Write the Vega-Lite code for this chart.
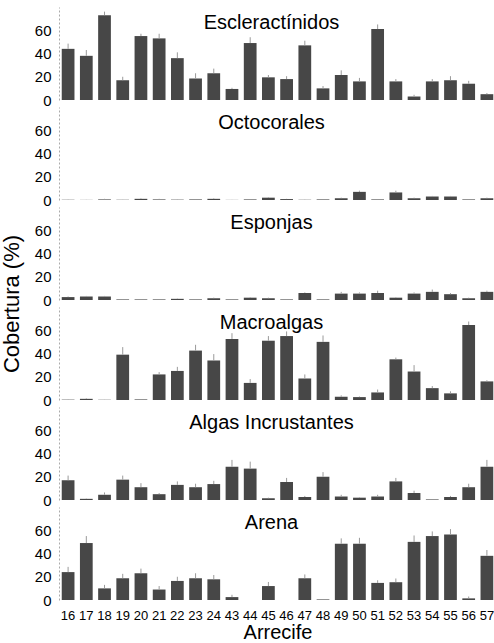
{
  "$schema": "https://vega.github.io/schema/vega-lite/v6.json",
  "padding": {"left": 0, "right": 0, "top": 7, "bottom": 0},
  "background": "white",
  "config": {
    "view": {"stroke": null},
    "font": "Liberation Sans",
    "axis": {"labelOverlap": false}
  },
  "datasets": {
    "cob": [
      {"arrecife": "16", "grupo": "Escleractínidos", "cobertura": 44, "sup": 48.5},
      {"arrecife": "17", "grupo": "Escleractínidos", "cobertura": 38, "sup": 43},
      {"arrecife": "18", "grupo": "Escleractínidos", "cobertura": 73, "sup": 76},
      {"arrecife": "19", "grupo": "Escleractínidos", "cobertura": 17, "sup": 20},
      {"arrecife": "20", "grupo": "Escleractínidos", "cobertura": 55, "sup": 57},
      {"arrecife": "21", "grupo": "Escleractínidos", "cobertura": 53, "sup": 57},
      {"arrecife": "22", "grupo": "Escleractínidos", "cobertura": 36, "sup": 41},
      {"arrecife": "23", "grupo": "Escleractínidos", "cobertura": 18.5, "sup": 23},
      {"arrecife": "24", "grupo": "Escleractínidos", "cobertura": 23, "sup": 27},
      {"arrecife": "43", "grupo": "Escleractínidos", "cobertura": 9.5, "sup": 10.5},
      {"arrecife": "44", "grupo": "Escleractínidos", "cobertura": 49, "sup": 54},
      {"arrecife": "45", "grupo": "Escleractínidos", "cobertura": 19.5, "sup": 21.5},
      {"arrecife": "46", "grupo": "Escleractínidos", "cobertura": 18, "sup": 20.5},
      {"arrecife": "47", "grupo": "Escleractínidos", "cobertura": 47, "sup": 51},
      {"arrecife": "48", "grupo": "Escleractínidos", "cobertura": 10, "sup": 12},
      {"arrecife": "49", "grupo": "Escleractínidos", "cobertura": 21.5, "sup": 25.5},
      {"arrecife": "50", "grupo": "Escleractínidos", "cobertura": 16, "sup": 19},
      {"arrecife": "51", "grupo": "Escleractínidos", "cobertura": 61, "sup": 65},
      {"arrecife": "52", "grupo": "Escleractínidos", "cobertura": 16, "sup": 18},
      {"arrecife": "53", "grupo": "Escleractínidos", "cobertura": 3, "sup": 4.5},
      {"arrecife": "54", "grupo": "Escleractínidos", "cobertura": 16, "sup": 18},
      {"arrecife": "55", "grupo": "Escleractínidos", "cobertura": 17, "sup": 20.5},
      {"arrecife": "56", "grupo": "Escleractínidos", "cobertura": 14, "sup": 16.5},
      {"arrecife": "57", "grupo": "Escleractínidos", "cobertura": 5, "sup": 6},

      {"arrecife": "16", "grupo": "Octocorales", "cobertura": 0.2, "sup": 0.4},
      {"arrecife": "17", "grupo": "Octocorales", "cobertura": 0.1, "sup": 0.2},
      {"arrecife": "18", "grupo": "Octocorales", "cobertura": 0.5, "sup": 1},
      {"arrecife": "19", "grupo": "Octocorales", "cobertura": 0.2, "sup": 0.3},
      {"arrecife": "20", "grupo": "Octocorales", "cobertura": 1, "sup": 1.5},
      {"arrecife": "21", "grupo": "Octocorales", "cobertura": 0.5, "sup": 1},
      {"arrecife": "22", "grupo": "Octocorales", "cobertura": 0.3, "sup": 0.5},
      {"arrecife": "23", "grupo": "Octocorales", "cobertura": 0.5, "sup": 0.8},
      {"arrecife": "24", "grupo": "Octocorales", "cobertura": 1, "sup": 1.5},
      {"arrecife": "43", "grupo": "Octocorales", "cobertura": 0.1, "sup": 0.2},
      {"arrecife": "44", "grupo": "Octocorales", "cobertura": 0.5, "sup": 0.8},
      {"arrecife": "45", "grupo": "Octocorales", "cobertura": 2, "sup": 2.5},
      {"arrecife": "46", "grupo": "Octocorales", "cobertura": 0.8, "sup": 1},
      {"arrecife": "47", "grupo": "Octocorales", "cobertura": 0.2, "sup": 0.4},
      {"arrecife": "48", "grupo": "Octocorales", "cobertura": 0.5, "sup": 0.8},
      {"arrecife": "49", "grupo": "Octocorales", "cobertura": 1.5, "sup": 2},
      {"arrecife": "50", "grupo": "Octocorales", "cobertura": 7, "sup": 8},
      {"arrecife": "51", "grupo": "Octocorales", "cobertura": 0.5, "sup": 0.8},
      {"arrecife": "52", "grupo": "Octocorales", "cobertura": 6.5, "sup": 8},
      {"arrecife": "53", "grupo": "Octocorales", "cobertura": 1.5, "sup": 2},
      {"arrecife": "54", "grupo": "Octocorales", "cobertura": 3, "sup": 3.5},
      {"arrecife": "55", "grupo": "Octocorales", "cobertura": 3, "sup": 3.5},
      {"arrecife": "56", "grupo": "Octocorales", "cobertura": 0.5, "sup": 0.7},
      {"arrecife": "57", "grupo": "Octocorales", "cobertura": 1.5, "sup": 2},

      {"arrecife": "16", "grupo": "Esponjas", "cobertura": 2.5, "sup": 3},
      {"arrecife": "17", "grupo": "Esponjas", "cobertura": 3, "sup": 3.5},
      {"arrecife": "18", "grupo": "Esponjas", "cobertura": 3, "sup": 3.5},
      {"arrecife": "19", "grupo": "Esponjas", "cobertura": 0.5, "sup": 0.7},
      {"arrecife": "20", "grupo": "Esponjas", "cobertura": 0.5, "sup": 0.8},
      {"arrecife": "21", "grupo": "Esponjas", "cobertura": 0.5, "sup": 0.7},
      {"arrecife": "22", "grupo": "Esponjas", "cobertura": 1, "sup": 1.3},
      {"arrecife": "23", "grupo": "Esponjas", "cobertura": 0.5, "sup": 0.7},
      {"arrecife": "24", "grupo": "Esponjas", "cobertura": 1.5, "sup": 2},
      {"arrecife": "43", "grupo": "Esponjas", "cobertura": 0.5, "sup": 0.7},
      {"arrecife": "44", "grupo": "Esponjas", "cobertura": 2, "sup": 2.5},
      {"arrecife": "45", "grupo": "Esponjas", "cobertura": 1.5, "sup": 2},
      {"arrecife": "46", "grupo": "Esponjas", "cobertura": 0.5, "sup": 0.7},
      {"arrecife": "47", "grupo": "Esponjas", "cobertura": 6, "sup": 6.5},
      {"arrecife": "48", "grupo": "Esponjas", "cobertura": 0.5, "sup": 0.7},
      {"arrecife": "49", "grupo": "Esponjas", "cobertura": 5.5, "sup": 7},
      {"arrecife": "50", "grupo": "Esponjas", "cobertura": 5.5, "sup": 6.5},
      {"arrecife": "51", "grupo": "Esponjas", "cobertura": 6, "sup": 8},
      {"arrecife": "52", "grupo": "Esponjas", "cobertura": 2, "sup": 2.5},
      {"arrecife": "53", "grupo": "Esponjas", "cobertura": 5.5, "sup": 6.5},
      {"arrecife": "54", "grupo": "Esponjas", "cobertura": 7, "sup": 9},
      {"arrecife": "55", "grupo": "Esponjas", "cobertura": 5, "sup": 6},
      {"arrecife": "56", "grupo": "Esponjas", "cobertura": 1.5, "sup": 2},
      {"arrecife": "57", "grupo": "Esponjas", "cobertura": 7, "sup": 8},

      {"arrecife": "16", "grupo": "Macroalgas", "cobertura": 0.3, "sup": 0.5},
      {"arrecife": "17", "grupo": "Macroalgas", "cobertura": 1, "sup": 1.5},
      {"arrecife": "18", "grupo": "Macroalgas", "cobertura": 0.2, "sup": 0.3},
      {"arrecife": "19", "grupo": "Macroalgas", "cobertura": 39, "sup": 45.5},
      {"arrecife": "20", "grupo": "Macroalgas", "cobertura": 0.5, "sup": 0.8},
      {"arrecife": "21", "grupo": "Macroalgas", "cobertura": 22, "sup": 24},
      {"arrecife": "22", "grupo": "Macroalgas", "cobertura": 25, "sup": 28.5},
      {"arrecife": "23", "grupo": "Macroalgas", "cobertura": 42.5, "sup": 47.5},
      {"arrecife": "24", "grupo": "Macroalgas", "cobertura": 34, "sup": 39.5},
      {"arrecife": "43", "grupo": "Macroalgas", "cobertura": 52.5, "sup": 57.5},
      {"arrecife": "44", "grupo": "Macroalgas", "cobertura": 14.7, "sup": 18},
      {"arrecife": "45", "grupo": "Macroalgas", "cobertura": 51, "sup": 55},
      {"arrecife": "46", "grupo": "Macroalgas", "cobertura": 55, "sup": 59},
      {"arrecife": "47", "grupo": "Macroalgas", "cobertura": 18.5, "sup": 22},
      {"arrecife": "48", "grupo": "Macroalgas", "cobertura": 50, "sup": 55.5},
      {"arrecife": "49", "grupo": "Macroalgas", "cobertura": 2.8, "sup": 4},
      {"arrecife": "50", "grupo": "Macroalgas", "cobertura": 2.5, "sup": 3},
      {"arrecife": "51", "grupo": "Macroalgas", "cobertura": 6.5, "sup": 9},
      {"arrecife": "52", "grupo": "Macroalgas", "cobertura": 35, "sup": 36.5},
      {"arrecife": "53", "grupo": "Macroalgas", "cobertura": 24.5, "sup": 30},
      {"arrecife": "54", "grupo": "Macroalgas", "cobertura": 10.2, "sup": 12},
      {"arrecife": "55", "grupo": "Macroalgas", "cobertura": 5.7, "sup": 7.5},
      {"arrecife": "56", "grupo": "Macroalgas", "cobertura": 64.5, "sup": 67.5},
      {"arrecife": "57", "grupo": "Macroalgas", "cobertura": 16, "sup": 17},

      {"arrecife": "16", "grupo": "Algas Incrustantes", "cobertura": 17, "sup": 21},
      {"arrecife": "17", "grupo": "Algas Incrustantes", "cobertura": 1, "sup": 1.3},
      {"arrecife": "18", "grupo": "Algas Incrustantes", "cobertura": 4.5, "sup": 6.5},
      {"arrecife": "19", "grupo": "Algas Incrustantes", "cobertura": 17.5, "sup": 21},
      {"arrecife": "20", "grupo": "Algas Incrustantes", "cobertura": 11, "sup": 14.5},
      {"arrecife": "21", "grupo": "Algas Incrustantes", "cobertura": 5, "sup": 6},
      {"arrecife": "22", "grupo": "Algas Incrustantes", "cobertura": 13, "sup": 16},
      {"arrecife": "23", "grupo": "Algas Incrustantes", "cobertura": 11, "sup": 14},
      {"arrecife": "24", "grupo": "Algas Incrustantes", "cobertura": 13.7, "sup": 16.5},
      {"arrecife": "43", "grupo": "Algas Incrustantes", "cobertura": 28.6, "sup": 34.5},
      {"arrecife": "44", "grupo": "Algas Incrustantes", "cobertura": 27, "sup": 33},
      {"arrecife": "45", "grupo": "Algas Incrustantes", "cobertura": 1.5, "sup": 2},
      {"arrecife": "46", "grupo": "Algas Incrustantes", "cobertura": 15.5, "sup": 19},
      {"arrecife": "47", "grupo": "Algas Incrustantes", "cobertura": 2.6, "sup": 3.5},
      {"arrecife": "48", "grupo": "Algas Incrustantes", "cobertura": 20, "sup": 24},
      {"arrecife": "49", "grupo": "Algas Incrustantes", "cobertura": 3, "sup": 4.5},
      {"arrecife": "50", "grupo": "Algas Incrustantes", "cobertura": 2, "sup": 2.5},
      {"arrecife": "51", "grupo": "Algas Incrustantes", "cobertura": 3, "sup": 4.5},
      {"arrecife": "52", "grupo": "Algas Incrustantes", "cobertura": 16, "sup": 19},
      {"arrecife": "53", "grupo": "Algas Incrustantes", "cobertura": 6, "sup": 8},
      {"arrecife": "54", "grupo": "Algas Incrustantes", "cobertura": 0.5, "sup": 0.7},
      {"arrecife": "55", "grupo": "Algas Incrustantes", "cobertura": 2.6, "sup": 3.5},
      {"arrecife": "56", "grupo": "Algas Incrustantes", "cobertura": 11, "sup": 14},
      {"arrecife": "57", "grupo": "Algas Incrustantes", "cobertura": 28.6, "sup": 34.5},

      {"arrecife": "16", "grupo": "Arena", "cobertura": 24, "sup": 28.5},
      {"arrecife": "17", "grupo": "Arena", "cobertura": 49, "sup": 55},
      {"arrecife": "18", "grupo": "Arena", "cobertura": 10, "sup": 13},
      {"arrecife": "19", "grupo": "Arena", "cobertura": 18.7, "sup": 22.5},
      {"arrecife": "20", "grupo": "Arena", "cobertura": 23, "sup": 27},
      {"arrecife": "21", "grupo": "Arena", "cobertura": 9, "sup": 12},
      {"arrecife": "22", "grupo": "Arena", "cobertura": 16.4, "sup": 20},
      {"arrecife": "23", "grupo": "Arena", "cobertura": 18.7, "sup": 23},
      {"arrecife": "24", "grupo": "Arena", "cobertura": 17.8, "sup": 21.5},
      {"arrecife": "43", "grupo": "Arena", "cobertura": 2.5, "sup": 4.5},
      {"arrecife": "44", "grupo": "Arena", "cobertura": 0, "sup": 0},
      {"arrecife": "45", "grupo": "Arena", "cobertura": 12, "sup": 15.5},
      {"arrecife": "46", "grupo": "Arena", "cobertura": 0, "sup": 0},
      {"arrecife": "47", "grupo": "Arena", "cobertura": 18.7, "sup": 22},
      {"arrecife": "48", "grupo": "Arena", "cobertura": 0.5, "sup": 0.6},
      {"arrecife": "49", "grupo": "Arena", "cobertura": 48.4, "sup": 53},
      {"arrecife": "50", "grupo": "Arena", "cobertura": 48.4, "sup": 53.5},
      {"arrecife": "51", "grupo": "Arena", "cobertura": 14.7, "sup": 17},
      {"arrecife": "52", "grupo": "Arena", "cobertura": 15.3, "sup": 18.5},
      {"arrecife": "53", "grupo": "Arena", "cobertura": 50, "sup": 55.5},
      {"arrecife": "54", "grupo": "Arena", "cobertura": 55, "sup": 59},
      {"arrecife": "55", "grupo": "Arena", "cobertura": 56.4, "sup": 61},
      {"arrecife": "56", "grupo": "Arena", "cobertura": 1.4, "sup": 3},
      {"arrecife": "57", "grupo": "Arena", "cobertura": 38, "sup": 43}
    ]
  },
  "data": {"name": "cob"},
  "facet": {
    "row": {
      "field": "grupo",
      "type": "nominal",
      "sort": ["Escleractínidos", "Octocorales", "Esponjas", "Macroalgas", "Algas Incrustantes", "Arena"],
      "header": {
        "title": "Cobertura (%)",
        "titleFont": "Liberation Sans",
        "titleFontSize": 22,
        "titleFontWeight": "normal",
        "titleColor": "black",
        "titleOrient": "left",
        "titlePadding": 0,
        "labels": false
      }
    }
  },
  "spacing": 6,
  "spec": {
    "width": 437,
    "height": 93,
    "layer": [
      {
        "mark": {"type": "bar", "color": "#474747"},
        "encoding": {
          "x": {
            "field": "arrecife",
            "type": "ordinal",
            "scale": {"paddingInner": 0.3, "paddingOuter": 0.15},
            "axis": {
              "title": "Arrecife",
              "titleFont": "Liberation Sans",
              "titleFontSize": 20,
              "titleFontWeight": "normal",
              "titleColor": "black",
              "titlePadding": 0,
              "labelFont": "Liberation Sans",
              "labelFontSize": 13,
              "labelColor": "black",
              "labelAngle": 0,
              "labelPadding": 8,
              "labelOverlap": false,
              "ticks": false,
              "domain": false
            }
          },
          "y": {
            "field": "cobertura",
            "type": "quantitative",
            "scale": {"domain": [0, 80], "nice": false},
            "axis": {
              "title": null,
              "values": [0, 20, 40, 60],
              "tickCount": 10,
              "labelFont": "Liberation Sans",
              "labelFontSize": 15,
              "labelColor": "black",
              "labelPadding": 8,
              "labelOverlap": false,
              "labelBound": false,
              "ticks": false,
              "grid": false,
              "domainColor": "#aaaaaa",
              "domainDash": [2, 2]
            }
          }
        }
      },
      {
        "mark": {"type": "rule", "color": "#9a9a9a", "strokeWidth": 1},
        "encoding": {
          "x": {"field": "arrecife", "type": "ordinal"},
          "y": {"field": "cobertura", "type": "quantitative"},
          "y2": {"field": "sup"}
        }
      },
      {
        "transform": [{"filter": {"field": "arrecife", "equal": "16"}}],
        "mark": {"type": "text", "font": "Liberation Sans", "fontSize": 20, "baseline": "top", "align": "center", "dy": 6, "dx": -6, "color": "black"},
        "encoding": {
          "y": {"datum": 80, "type": "quantitative"},
          "text": {"field": "grupo"}
        }
      }
    ]
  },
  "resolve": {"scale": {"x": "shared", "y": "shared"}}
}
